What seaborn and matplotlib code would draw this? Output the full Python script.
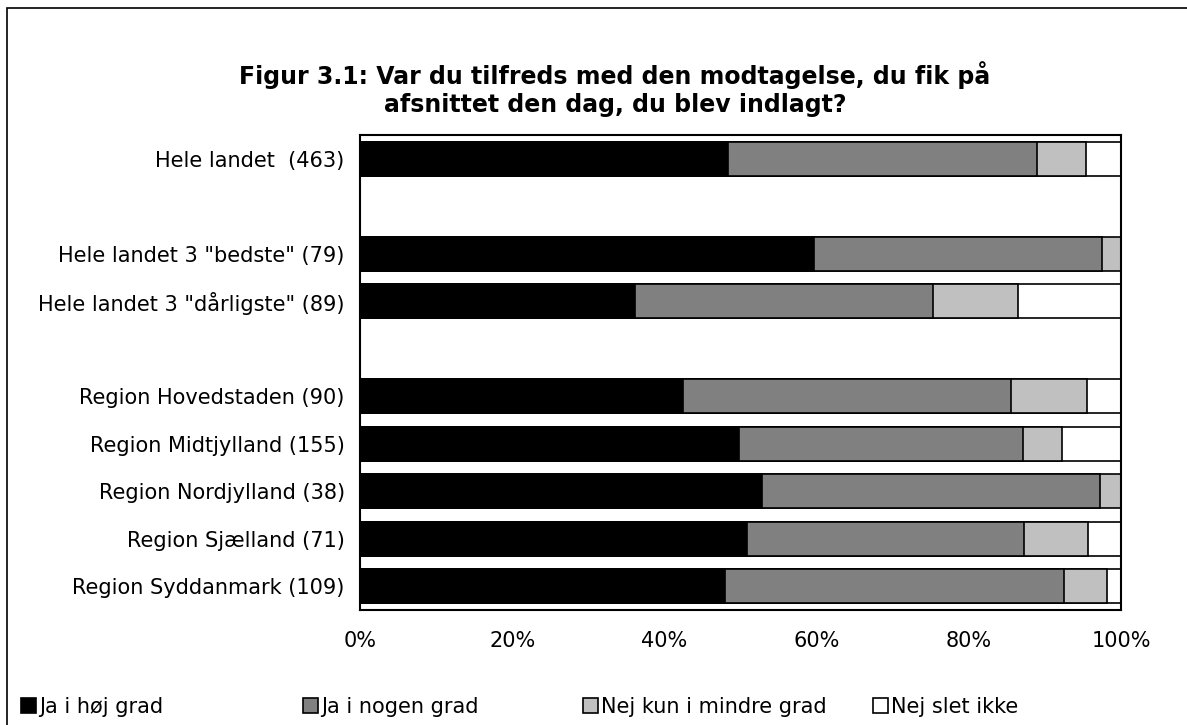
import numpy as np
import pandas as pd
import matplotlib
matplotlib.use("Agg")
import matplotlib.pyplot as plt
import seaborn as sns
from matplotlib.patches import Patch, Rectangle

# data (percent of answers)
categories = ['Hele landet  (463)', ' ', 'Hele landet 3 "bedste" (79)', 'Hele landet 3 "dårligste" (89)', '  ',
              'Region Hovedstaden (90)', 'Region Midtjylland (155)', 'Region Nordjylland (38)',
              'Region Sjælland (71)', 'Region Syddanmark (109)']
ja_hoej = [48.3, np.nan, 59.7, 36.1, np.nan, 42.4, 49.8, 52.8, 50.9, 47.9]
ja_nogen = [40.6, np.nan, 37.8, 39.2, np.nan, 43.1, 37.3, 44.5, 36.4, 44.6]
nej_mindre = [6.5, np.nan, 2.5, 11.2, np.nan, 10.0, 5.1, 2.7, 8.4, 5.6]
nej_slet = [4.6, np.nan, 0.0, 13.5, np.nan, 4.5, 7.8, 0.0, 4.3, 1.9]

series = ['Ja i høj grad', 'Ja i nogen grad', 'Nej kun i mindre grad', 'Nej slet ikke']
colors = ['#000000', '#808080', '#C0C0C0', '#FFFFFF']

df = pd.DataFrame({'cat': categories, series[0]: ja_hoej, series[1]: ja_nogen,
                   series[2]: nej_mindre, series[3]: nej_slet})
cum = df[series].cumsum(axis=1)

sns.set_style('white')
plt.rcParams['font.family'] = ['DejaVu Sans']
plt.rcParams['text.color'] = 'black'
plt.rcParams['xtick.color'] = 'black'
plt.rcParams['ytick.color'] = 'black'

fig = plt.figure(figsize=(11.87, 7.25), dpi=100)
ax = fig.add_axes([0.3033, 0.1586, 0.6411, 0.6552])

# stacked bars: draw cumulative totals from the right-most segment backwards
for s, c in reversed(list(zip(series, colors))):
    vals = cum[s].where(df[s] > 0)
    plot_df = pd.DataFrame({'cat': categories, 'v': vals})
    sns.barplot(data=plot_df, x='v', y='cat', order=categories, orient='h', color=c,
                saturation=1, width=0.72, edgecolor='black', linewidth=1.2, ax=ax, errorbar=None)

ax.set_xlim(0, 100)
ax.set_ylim(len(categories) - 0.5, -0.5)
ax.set_xticks([0, 20, 40, 60, 80, 100])
ax.set_xticklabels(['0%', '20%', '40%', '60%', '80%', '100%'])
ax.set_xlabel('')
ax.set_ylabel('')
ax.tick_params(axis='x', direction='out', length=7, width=1, pad=8, labelsize=15, color='black')
ax.tick_params(axis='y', length=0, pad=11, labelsize=15)
for sp in ax.spines.values():
    sp.set_visible(True)
    sp.set_color('black')
    sp.set_linewidth(1.5)

fig.text(0.518, 0.877, 'Figur 3.1: Var du tilfreds med den modtagelse, du fik på\nafsnittet den dag, du blev indlagt?',
         ha='center', va='center', fontsize=17, fontweight='bold', linespacing=1.25)

# legend entries spaced evenly along the bottom
legend_x = [13, 295, 575, 865]
for lbl, c, x in zip(series, colors, legend_x):
    h = Patch(facecolor=c, edgecolor='black', linewidth=1.2)
    fig.legend([h], [lbl], loc='center left', frameon=False, bbox_to_anchor=(x / 1187, 1 - 707 / 725),
               fontsize=15, handlelength=0.7, handleheight=0.7, handletextpad=0.15, borderaxespad=0)

# outer frame around the chart
fig.patches.append(Rectangle((7 / 1187, -0.01), 1.05, 1 - 8 / 725 + 0.01, transform=fig.transFigure,
                             fill=False, edgecolor='black', linewidth=1.2))

fig.savefig('out.png', dpi=100)
